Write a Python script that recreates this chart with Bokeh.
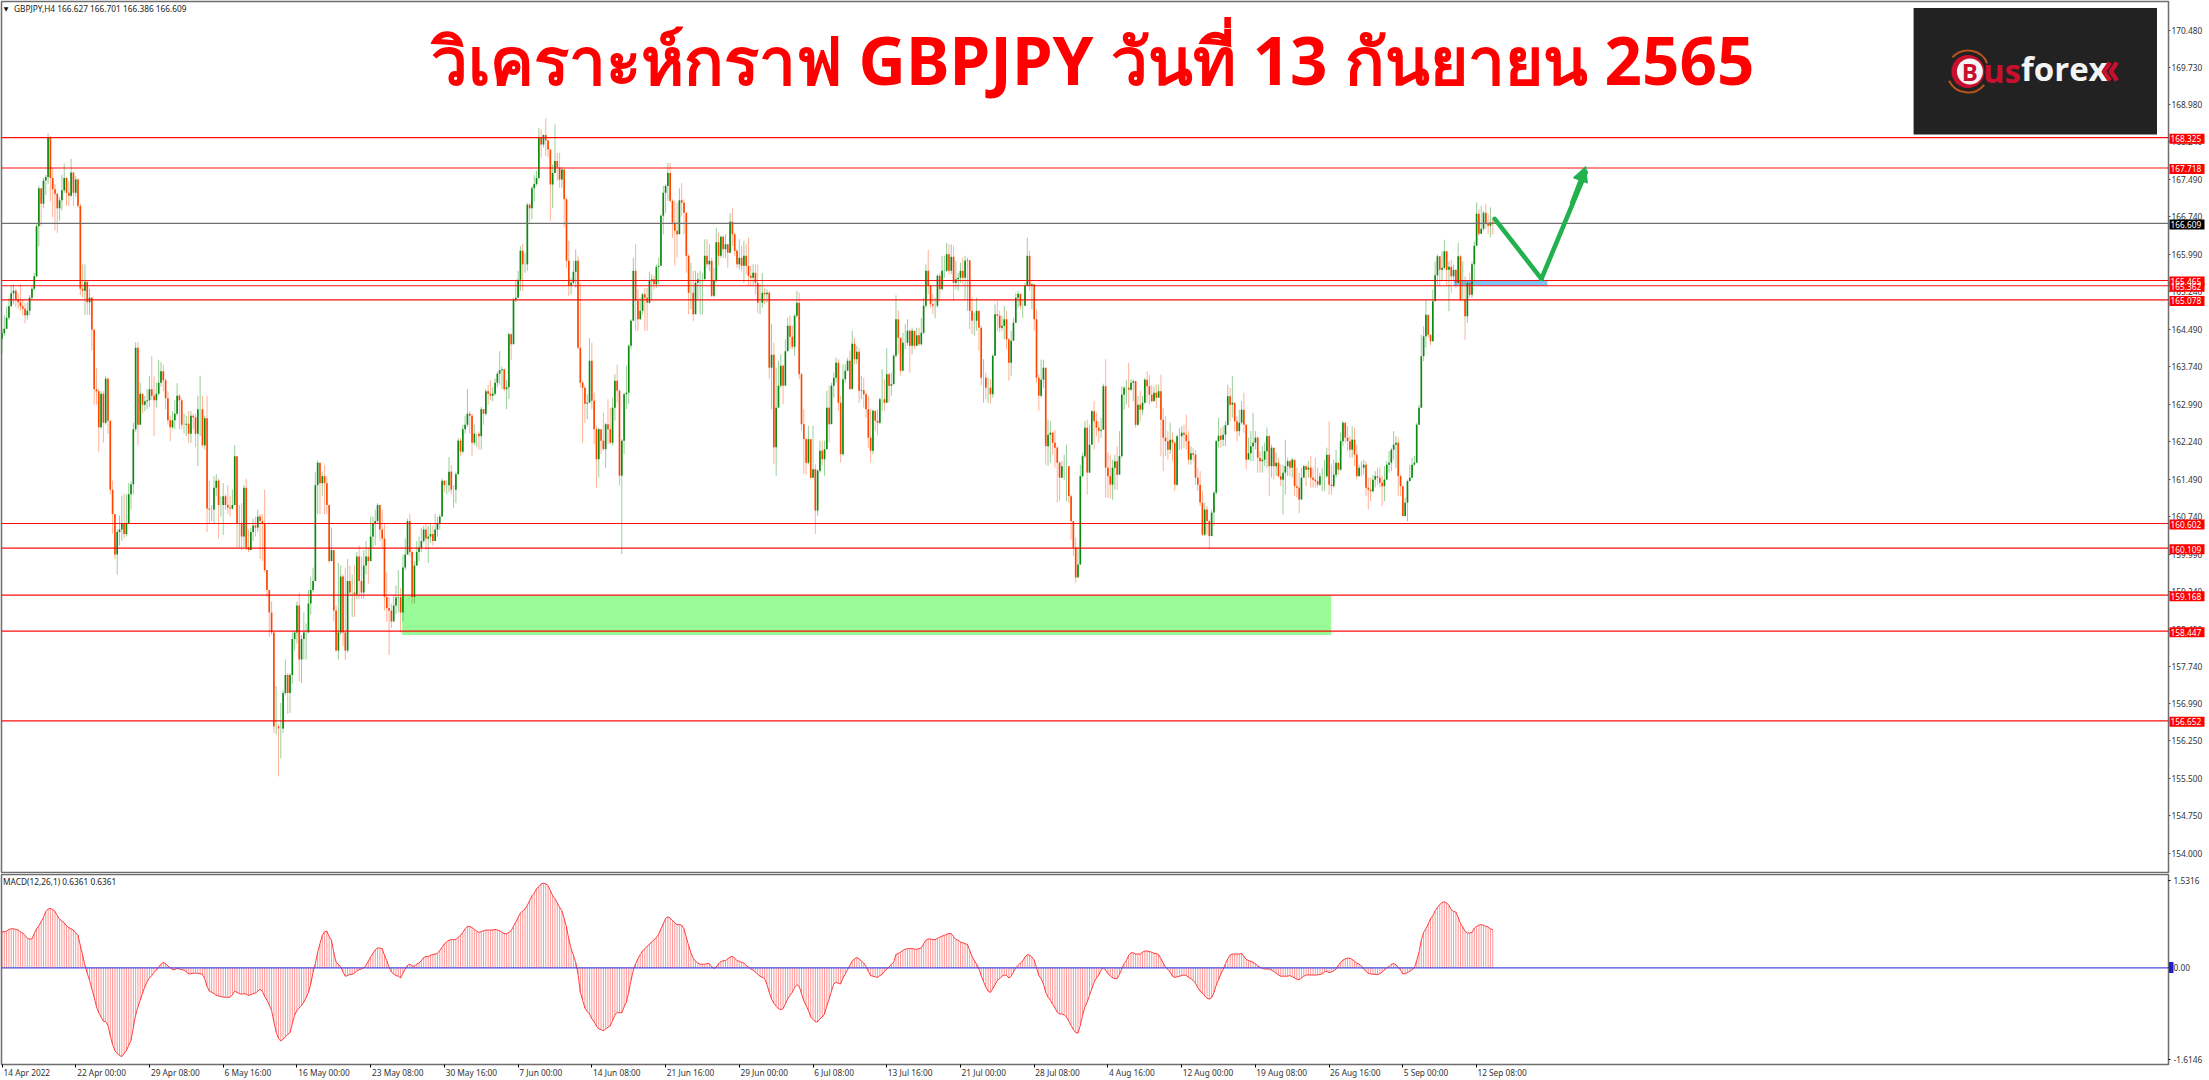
from bokeh.plotting import figure
from bokeh.layouts import column
from bokeh.models import (ColumnDataSource, FixedTicker, Label, Arrow, NormalHead)
from bokeh.core.properties import value
from bokeh.embed import file_html
from bokeh.resources import INLINE

# ---------- values ----------
closes = [
164.41,164.50,164.72,164.95,165.21,165.26,165.08,165.03,164.95,164.90,164.77,164.86,165.12,165.30,165.55,166.55,
167.31,167.00,167.47,167.54,168.34,167.52,167.29,167.20,166.91,167.07,167.27,167.52,167.22,167.16,167.63,167.22,
167.49,166.96,165.30,165.26,165.44,165.03,165.12,164.48,163.29,163.25,162.53,163.20,162.62,163.50,162.66,161.28,
160.79,159.98,160.43,160.48,160.61,160.39,160.61,161.19,161.39,162.49,164.12,162.58,163.20,162.98,163.05,163.07,
163.29,163.16,163.07,163.20,163.42,163.65,163.47,163.11,162.67,162.53,162.67,162.80,163.16,163.07,162.58,162.58,
162.60,162.40,162.76,162.73,162.40,162.89,162.89,162.17,162.71,160.90,160.88,160.88,161.32,161.46,160.97,160.97,
161.15,160.97,160.92,160.90,160.97,161.95,160.61,160.61,160.34,161.32,160.12,160.07,160.43,160.56,160.52,160.74,
160.65,160.61,159.67,159.27,158.82,158.42,156.54,156.54,156.50,156.50,157.21,157.57,157.21,157.57,158.29,158.42,
158.96,157.88,158.29,158.42,158.42,159.00,159.27,159.45,161.37,161.82,161.41,161.55,161.41,160.97,159.85,160.07,
158.86,158.06,158.42,159.54,158.42,158.06,159.45,159.22,159.22,159.18,159.94,159.45,159.22,159.76,159.94,159.85,
160.34,160.61,160.65,160.97,160.48,160.30,159.13,158.91,158.86,158.64,158.96,159.12,159.13,158.82,159.72,159.98,
160.65,160.03,159.13,159.76,160.03,160.12,160.25,160.48,160.30,160.34,160.39,160.25,160.48,160.61,160.74,161.46,
161.37,161.37,161.64,161.28,161.28,161.59,162.26,162.04,162.49,162.58,162.80,162.76,162.22,162.40,162.40,162.35,
162.89,162.80,163.25,163.20,163.16,163.20,163.42,163.60,163.67,163.69,163.29,163.33,164.39,164.19,165.08,165.12,
165.48,166.06,165.79,165.79,166.98,166.91,167.31,167.40,167.52,168.33,168.19,168.38,168.27,168.09,167.39,167.62,
167.86,167.73,167.49,167.69,167.09,165.86,165.36,165.42,165.64,165.86,164.12,163.42,163.32,163.00,163.02,163.86,
163.06,162.49,161.89,162.49,162.26,162.09,162.59,162.49,162.22,162.92,163.46,163.26,161.56,162.26,163.19,163.22,
164.16,164.66,165.66,165.06,164.69,164.86,165.19,165.12,165.02,165.46,165.49,165.39,165.74,165.76,166.76,167.22,
167.36,167.62,167.06,166.62,166.46,166.39,167.07,167.02,166.82,165.96,165.22,165.22,164.79,165.42,165.49,165.49,
165.49,165.96,165.79,165.86,165.16,165.46,166.23,165.96,166.34,166.09,166.19,166.02,166.64,166.39,166.06,165.79,
165.92,165.76,165.96,165.76,165.56,165.52,165.62,165.42,165.02,165.02,165.22,165.19,165.22,163.72,163.98,162.13,
162.92,163.36,163.76,163.36,164.05,164.56,164.34,164.14,164.76,165.02,163.59,162.59,162.29,161.82,162.29,161.52,
161.69,160.86,161.66,162.06,161.89,162.09,162.92,162.59,163.36,163.52,163.82,163.02,161.99,163.49,163.66,163.86,
163.29,164.20,163.89,164.04,163.26,163.27,163.19,162.89,162.32,162.06,162.86,162.66,162.62,163.09,163.09,163.02,
163.59,163.36,163.39,163.96,164.69,164.32,163.66,164.22,164.22,164.46,164.16,164.46,164.16,164.37,164.19,164.42,
164.96,165.66,165.36,164.99,164.96,164.96,165.56,165.29,165.66,165.66,165.99,165.66,165.94,165.42,165.49,165.52,
165.66,165.52,165.86,165.87,164.86,164.66,164.66,164.86,164.52,163.52,163.52,163.32,163.32,163.19,163.96,164.79,
164.76,164.52,164.56,164.69,164.29,163.82,164.26,164.62,165.12,165.20,164.96,164.96,165.36,165.96,165.36,165.39,
164.69,163.52,163.16,163.48,163.72,162.15,162.38,162.42,162.22,162.12,161.82,161.52,161.75,161.75,161.75,161.15,
160.65,160.12,159.52,159.78,161.55,161.95,162.52,161.62,162.18,162.85,162.65,162.52,162.46,162.48,163.35,161.72,
161.55,161.38,161.72,161.85,161.58,161.95,163.18,163.32,163.32,163.28,163.42,163.45,162.58,162.98,162.88,163.02,
163.48,163.35,163.18,163.05,163.22,163.12,163.25,162.68,162.32,162.25,162.08,162.28,162.22,161.38,162.35,162.35,
162.42,162.38,162.25,161.88,162.01,161.98,161.52,161.38,161.02,160.38,160.88,160.65,160.35,160.82,161.22,162.25,
162.36,162.28,162.38,162.57,163.15,162.98,163.02,162.65,162.45,162.62,162.88,162.58,161.88,162.01,162.15,162.22,
162.32,161.92,161.85,161.88,162.05,162.35,161.75,162.12,161.75,161.82,161.55,161.48,161.62,161.75,161.85,161.72,
161.88,161.35,161.32,161.08,161.52,161.75,161.68,161.72,161.52,161.48,161.45,161.38,161.55,161.55,161.55,161.98,
161.38,161.35,161.58,161.82,161.68,162.25,162.62,162.32,162.25,162.08,162.28,161.98,161.55,161.72,161.72,161.78,
161.32,161.28,161.25,161.48,161.55,161.52,161.42,161.35,161.48,161.78,161.82,162.08,162.18,162.22,161.55,161.35,
160.75,161.02,161.45,161.52,161.78,161.82,162.58,162.92,163.95,164.35,164.78,164.38,164.25,165.05,165.57,165.95,
165.68,165.72,166.05,165.68,165.74,165.55,165.68,165.42,165.95,165.08,165.08,164.75,165.42,165.18,165.79,166.16,
166.80,166.40,166.50,166.82,166.60,166.56,166.63,166.609]
highs = [
164.50,164.77,164.95,165.12,165.37,165.39,165.30,165.21,165.39,165.08,165.01,165.03,165.17,165.35,165.62,166.60,
167.36,167.31,167.52,167.58,168.41,168.36,167.72,167.40,167.22,167.14,167.58,167.81,167.54,167.45,167.90,167.63,
167.56,167.52,167.00,165.79,165.79,165.46,165.30,165.14,164.50,163.71,163.29,163.25,163.25,163.56,163.53,162.66,
161.46,160.79,160.48,160.76,161.15,161.19,161.19,161.41,161.44,162.62,164.23,164.23,163.42,163.20,163.16,163.29,
163.56,163.96,163.56,163.42,163.87,163.83,163.78,163.51,163.25,162.76,162.85,163.07,163.41,163.20,163.11,162.80,
162.76,162.85,162.85,162.80,162.80,163.16,163.56,163.16,162.76,163.16,161.46,160.97,161.55,161.59,161.50,161.15,
161.41,161.19,161.37,161.15,161.28,162.17,161.95,160.97,161.01,161.37,161.50,160.48,160.52,160.70,160.74,160.88,
160.79,160.79,161.28,159.67,159.27,159.04,158.42,157.35,156.59,157.01,157.26,157.88,157.61,157.61,158.42,158.46,
159.04,159.22,158.37,158.82,158.60,159.27,159.54,159.72,161.64,161.86,161.82,161.64,161.77,161.55,160.97,160.52,
160.07,158.96,159.81,159.76,159.58,159.72,159.89,159.76,159.58,159.76,160.03,160.16,159.94,160.07,160.25,160.12,
160.74,160.74,160.88,161.01,160.97,160.88,160.61,159.62,159.13,159.00,159.18,159.36,159.67,159.31,159.98,160.30,
160.70,160.79,160.07,159.85,160.25,160.34,160.52,160.56,160.61,160.56,160.61,160.56,160.79,160.74,160.79,161.50,
161.46,161.46,161.93,161.77,161.37,161.64,162.31,162.31,162.58,162.76,163.29,162.85,162.80,162.58,162.40,162.44,
162.93,162.89,163.29,163.38,163.47,163.33,163.51,163.65,164.05,163.74,163.56,163.47,164.43,164.41,165.12,165.48,
165.66,166.15,166.20,166.02,167.02,167.02,167.36,167.58,167.67,168.52,168.49,168.39,168.71,168.29,168.06,167.79,
168.59,168.02,168.02,167.73,167.69,167.12,166.26,165.52,165.86,166.09,165.96,165.41,163.46,163.36,163.19,164.31,
164.22,163.22,162.56,162.52,162.42,162.82,162.62,163.09,162.92,163.12,163.59,163.78,163.29,162.29,163.22,163.76,
164.19,164.69,165.92,166.19,165.29,165.12,165.22,165.32,165.32,165.64,165.59,165.56,165.79,165.92,166.79,167.36,
167.39,167.82,167.82,167.09,167.06,167.02,167.31,167.42,167.09,166.82,165.99,165.82,165.66,165.66,165.62,165.66,
165.62,166.29,166.29,166.19,165.92,165.72,166.52,166.42,166.36,166.36,166.39,166.19,166.82,166.91,166.42,166.09,
166.29,166.16,166.26,166.19,166.32,165.76,165.79,165.79,165.79,165.39,165.62,165.32,165.29,165.26,164.59,164.22,
163.72,163.86,163.99,163.79,164.29,164.72,164.76,164.56,164.79,165.26,165.22,163.62,162.89,162.32,162.56,162.29,
162.56,161.79,161.69,162.26,162.26,162.26,163.26,163.36,163.42,163.62,163.92,163.89,163.16,163.79,163.79,163.92,
164.06,164.46,164.32,164.16,164.12,163.56,163.52,163.22,163.16,162.89,162.89,162.79,162.89,163.12,163.69,163.49,
164.11,163.62,163.62,163.99,165.17,164.87,164.32,164.42,164.59,164.69,164.49,164.52,164.39,164.52,164.52,164.72,
165.12,165.79,166.08,165.36,165.19,165.12,165.59,165.62,165.96,165.96,166.22,166.19,166.19,166.16,165.86,165.62,
165.82,165.92,165.96,165.92,165.87,165.12,164.82,165.12,164.82,164.56,163.89,163.62,163.52,163.49,163.99,164.99,
165.06,164.86,164.76,164.96,164.86,164.32,164.46,164.72,165.22,165.26,165.19,165.06,165.42,166.32,166.06,165.42,
165.29,164.89,163.59,163.88,163.88,163.72,162.68,162.65,162.45,162.48,162.15,161.85,161.85,161.98,162.18,161.75,
161.18,160.65,160.32,160.12,161.78,162.02,162.65,162.68,162.58,162.88,163.05,162.82,162.65,162.72,163.40,163.89,
162.02,161.98,161.88,161.98,162.15,162.45,163.35,163.35,163.48,163.82,163.48,163.48,163.45,163.15,163.25,163.15,
163.52,163.65,163.58,163.38,163.35,163.38,163.38,163.58,162.92,162.75,162.45,162.62,162.42,162.25,162.38,162.52,
162.55,162.58,162.78,162.45,162.15,162.12,162.08,161.72,161.65,161.25,161.02,160.95,160.68,160.88,161.25,162.28,
162.72,162.52,162.55,162.65,163.38,163.32,163.55,162.98,162.75,162.88,163.05,163.22,162.58,162.32,162.45,162.82,
162.45,162.35,162.05,162.15,162.22,162.52,162.38,162.18,162.12,162.02,161.92,161.78,161.78,162.28,161.92,161.88,
161.92,161.85,161.72,161.62,161.72,161.78,161.78,161.85,161.95,161.72,161.92,161.72,161.62,161.72,161.88,162.12,
162.65,161.78,161.88,162.08,161.82,162.42,162.65,162.62,162.55,162.35,162.55,162.52,162.18,161.78,161.85,161.88,
161.85,161.52,161.52,161.58,161.65,161.72,161.72,161.55,161.75,161.85,162.05,162.12,162.45,162.35,162.32,161.58,
161.35,161.12,161.48,161.78,161.92,161.95,162.62,162.98,164.38,164.55,165.08,164.78,164.38,165.28,165.85,165.99,
165.95,166.05,166.28,166.05,165.85,165.88,165.78,165.68,166.22,165.98,165.85,165.55,165.45,165.62,165.85,166.25,
167.03,166.90,166.96,166.86,167.00,166.80,166.93,166.701]
lows = [
164.01,164.36,164.50,164.68,164.95,164.99,164.93,164.90,164.86,164.77,164.61,164.68,164.77,165.08,165.26,165.53,
166.15,166.55,166.91,167.18,167.40,167.05,166.73,166.47,166.42,166.66,166.87,167.22,166.96,166.96,167.14,166.96,
167.14,166.91,165.17,165.12,164.78,164.78,164.78,164.07,162.98,162.98,162.04,162.49,162.22,162.58,162.40,161.19,
160.40,159.89,159.58,160.16,160.25,160.30,160.34,160.79,160.88,161.19,162.44,162.17,162.85,162.80,162.85,162.89,
162.93,163.07,162.35,162.93,163.16,163.34,163.25,162.89,162.58,162.25,162.49,162.49,162.76,162.49,162.49,162.40,
162.35,162.22,162.22,162.49,162.13,161.75,162.35,162.13,162.08,160.43,160.61,160.65,160.61,161.15,160.30,160.74,
160.37,160.88,160.79,160.74,160.88,160.97,160.12,160.12,160.07,160.12,160.07,160.03,160.07,160.25,160.34,160.43,
159.89,159.85,159.63,159.13,158.33,158.37,156.41,156.38,155.54,155.90,156.41,157.17,156.79,156.81,157.39,158.06,
158.20,157.44,157.41,157.88,157.88,158.42,158.78,159.22,159.72,160.79,160.79,161.15,160.79,160.79,159.81,159.85,
158.64,158.03,157.88,158.37,158.15,157.87,158.02,159.18,158.73,158.73,159.09,159.09,159.09,159.09,159.58,159.40,
159.85,160.12,160.16,160.61,160.25,160.12,158.86,158.64,157.97,158.51,158.69,158.78,158.82,158.42,158.64,159.67,
159.98,159.94,159.00,159.00,159.76,159.85,160.03,160.21,160.07,159.81,160.21,160.16,160.25,160.34,160.48,160.74,
161.23,161.19,161.23,161.19,160.92,161.01,161.57,161.95,162.00,162.40,162.53,162.40,161.95,162.17,162.13,162.08,
162.08,162.58,162.76,162.98,163.07,163.05,163.16,163.33,163.38,163.29,163.25,162.89,163.09,163.87,164.19,165.03,
165.12,165.26,165.26,165.62,165.66,166.64,166.69,167.05,167.36,167.49,167.93,168.13,167.96,167.93,166.66,166.92,
167.62,167.46,167.32,167.32,166.53,165.72,165.16,165.19,165.39,165.32,164.09,163.32,162.22,162.62,162.69,163.02,
162.89,162.19,161.32,161.52,161.99,162.06,161.72,162.19,162.19,162.16,162.66,163.02,161.36,159.99,161.99,162.89,
163.00,164.09,164.66,164.46,164.46,164.69,164.79,164.46,164.46,164.99,165.06,165.29,165.32,165.39,165.76,166.39,
166.82,167.06,167.03,166.32,165.76,165.92,166.39,166.76,166.39,165.62,164.79,164.89,164.66,164.79,165.06,164.79,
164.79,165.59,165.72,165.65,165.13,165.13,165.42,165.76,165.92,165.92,165.92,165.72,166.02,166.16,165.96,165.72,
165.69,165.66,165.42,165.59,165.36,165.36,165.36,165.19,164.82,164.79,164.92,164.99,165.02,163.49,162.89,161.79,
161.55,162.96,163.32,162.99,163.96,164.06,164.09,164.09,163.96,164.72,163.49,162.46,161.59,161.59,161.79,161.49,
161.52,160.39,160.75,161.62,161.76,161.56,162.09,162.22,162.59,163.12,163.42,162.86,161.82,161.96,163.42,163.66,
163.29,163.86,163.79,163.79,163.02,163.09,162.92,162.72,162.12,161.82,161.99,162.46,162.36,162.59,162.86,162.86,
163.02,163.02,163.16,163.39,163.92,163.99,163.56,163.99,164.09,164.16,163.62,163.99,164.09,164.16,164.16,164.16,
164.39,164.92,165.19,164.92,164.79,164.71,164.92,165.06,165.29,165.52,165.64,165.59,165.59,165.06,165.29,165.26,
165.42,165.39,165.09,164.86,164.49,164.39,164.36,164.46,164.06,163.36,163.02,163.09,163.02,163.00,163.12,163.96,
164.46,164.43,164.46,164.29,164.09,163.46,163.56,164.26,164.62,164.92,164.89,164.72,164.96,165.36,165.26,164.89,
164.46,163.42,162.86,163.12,163.32,161.78,161.75,161.82,161.98,161.72,161.02,161.05,161.52,161.48,161.05,161.02,
160.28,159.95,159.42,159.55,159.78,161.52,161.92,161.18,161.62,162.18,162.08,162.35,162.22,162.32,162.48,161.12,
161.12,161.10,161.08,161.28,161.28,161.58,161.92,162.88,162.98,162.92,163.25,163.05,162.52,162.55,162.65,162.78,
163.00,163.02,162.98,163.02,163.05,162.92,163.12,161.95,161.65,161.95,161.88,161.99,161.85,161.25,161.35,162.08,
162.08,162.12,162.08,161.78,161.78,161.85,161.38,161.25,160.95,160.35,160.35,160.38,160.08,160.35,160.55,161.18,
162.12,162.12,162.15,162.15,162.58,162.65,162.72,162.45,162.25,162.35,162.58,162.42,161.68,161.92,161.85,161.85,
162.08,161.62,161.62,161.62,161.75,161.72,161.15,161.52,161.48,161.55,161.52,161.35,160.78,161.18,161.55,161.55,
161.52,161.15,161.12,160.81,161.28,161.52,161.35,161.52,161.32,161.32,161.32,161.32,161.35,161.25,161.25,161.52,
161.18,161.18,161.32,161.52,161.58,161.65,162.15,162.22,162.05,161.92,161.92,161.75,161.48,161.55,161.55,161.58,
161.15,160.88,161.05,161.22,161.32,161.38,161.32,160.95,161.05,161.48,161.62,161.65,161.88,161.72,161.15,161.15,
160.75,160.75,160.65,161.48,161.52,161.75,161.82,162.58,162.92,163.85,164.12,164.32,164.17,164.25,165.22,165.38,
165.35,165.45,165.68,165.38,164.85,165.22,165.45,165.32,165.42,165.05,165.05,164.28,164.62,165.12,165.12,165.45,
166.16,166.36,166.40,166.46,166.50,166.40,166.33,166.386]
# open of each 4-hour bar follows the previous close on this chart
first_open = 164.30
macd = [
.60,.60,.61,.64,.65,.65,.64,.63,.60,.58,.54,.49,.48,.48,.57,.65,.70,.77,.84,.94,.98,.99,.97,.94,.87,.81,.78,.75,.70,.67,.65,.63,
.58,.54,.37,.21,.04,-.09,-.21,-.35,-.49,-.65,-.75,-.82,-.89,-.90,-.96,-1.13,-1.28,-1.38,-1.43,-1.46,-1.48,-1.43,-1.38,-1.29,-1.21,-.99,-.79,-.65,-.54,-.42,-.32,-.23,
-.17,-.13,-.08,-.04,.01,.06,.09,.07,.03,0,-.03,-.03,-.01,-.02,-.03,-.04,-.07,-.10,-.10,-.09,-.09,-.09,-.10,-.11,-.18,-.31,-.39,-.41,-.43,-.46,-.47,-.48,
-.49,-.49,-.49,-.49,-.45,-.39,-.41,-.43,-.44,-.43,-.44,-.46,-.45,-.43,-.42,-.39,-.36,-.39,-.48,-.54,-.62,-.71,-.90,-1.07,-1.18,-1.22,-1.19,-1.15,-1.11,-1.08,-.93,-.79,
-.71,-.67,-.63,-.57,-.50,-.41,-.27,-.07,.07,.26,.40,.54,.60,.61,.52,.46,.26,.09,.06,.01,-.07,-.14,-.13,-.11,-.11,-.09,-.05,-.03,-.02,0,.04,.11,
.18,.24,.30,.33,.33,.32,.21,.12,.01,-.07,-.10,-.13,-.14,-.17,-.09,-.02,.04,.06,.03,.03,.06,.08,.12,.17,.19,.19,.21,.22,.23,.24,.29,.34,
.40,.43,.46,.47,.47,.47,.51,.54,.59,.65,.69,.69,.67,.64,.61,.59,.60,.62,.63,.63,.63,.63,.64,.63,.62,.59,.57,.57,.59,.62,.69,.76,
.84,.91,.95,.98,1.04,1.12,1.20,1.24,1.32,1.35,1.40,1.41,1.40,1.37,1.29,1.20,1.15,1.08,1.01,.95,.82,.68,.48,.32,.21,.09,-.10,-.41,-.54,-.67,-.73,-.77,
-.85,-.90,-.97,-1.02,-1.03,-1.05,-1.02,-.99,-.97,-.88,-.79,-.74,-.75,-.75,-.65,-.57,-.41,-.21,-.04,.07,.15,.22,.28,.32,.36,.39,.43,.47,.50,.56,.65,.73,
.82,.85,.83,.79,.75,.72,.72,.71,.65,.51,.37,.25,.16,.11,.08,.06,.06,.06,.07,.07,.02,-.01,.01,.07,.10,.12,.12,.15,.18,.19,.16,.12,
.11,.09,.08,.04,.01,-.02,-.04,-.07,-.11,-.14,-.16,-.18,-.28,-.41,-.52,-.59,-.64,-.68,-.70,-.68,-.60,-.52,-.46,-.41,-.33,-.28,-.31,-.43,-.55,-.63,-.71,-.82,
-.86,-.90,-.90,-.85,-.82,-.77,-.63,-.52,-.39,-.27,-.24,-.26,-.27,-.17,-.10,-.03,.04,.11,.15,.17,.15,.11,.08,.02,-.06,-.13,-.14,-.15,-.16,-.13,-.11,-.06,
-.02,.01,.06,.09,.22,.24,.26,.29,.31,.32,.32,.32,.31,.31,.32,.33,.40,.46,.48,.48,.47,.47,.49,.51,.53,.54,.56,.57,.57,.52,.47,.46,
.43,.42,.40,.39,.29,.19,.12,.06,-.02,-.13,-.23,-.32,-.39,-.41,-.35,-.28,-.21,-.18,-.14,-.12,-.13,-.17,-.14,-.07,0,.04,.08,.11,.18,.22,.21,.18,
.13,0,-.13,-.18,-.27,-.41,-.49,-.54,-.61,-.67,-.74,-.77,-.77,-.78,-.82,-.89,-.96,-1.03,-1.08,-1.09,-.96,-.79,-.65,-.57,-.46,-.35,-.24,-.17,-.12,-.04,0,-.04,
-.10,-.13,-.17,-.18,-.18,-.11,-.02,.07,.12,.21,.25,.25,.23,.23,.23,.26,.28,.28,.27,.26,.24,.24,.22,.15,.08,.01,-.03,-.07,-.14,-.16,-.15,-.14,-.13,-.12,
-.13,-.16,-.18,-.21,-.26,-.33,-.39,-.42,-.47,-.51,-.52,-.50,-.41,-.29,-.20,-.10,-.03,.07,.15,.21,.23,.23,.23,.23,.24,.19,.14,.12,.11,.09,.07,.03,.01,-.01,
-.02,-.02,-.02,-.04,-.06,-.09,-.12,-.14,-.14,-.14,-.14,-.13,-.15,-.17,-.19,-.20,-.17,-.14,-.12,-.12,-.12,-.12,-.12,-.12,-.11,-.10,-.07,-.06,-.08,-.07,-.05,-.02,.04,.09,
.13,.15,.16,.16,.14,.11,.08,.06,.03,-.02,-.06,-.09,-.10,-.11,-.11,-.11,-.10,-.07,-.04,0,.02,.06,.07,.05,.01,-.04,-.10,-.10,-.08,-.06,-.03,0,.12,.26,
.46,.59,.65,.73,.82,.87,.95,1.01,1.05,1.09,1.10,1.08,1.04,.97,.94,.93,.84,.74,.68,.61,.58,.58,.59,.66,.69,.71,.72,.71,.69,.68,.65,.6361]
date_ticks = [0,32,64,96,128,160,192,224,256,288,320,352,384,416,448,480,512,544,576,608,640]
date_labels = ["14 Apr 2022","22 Apr 00:00","29 Apr 08:00","6 May 16:00","16 May 00:00","23 May 08:00","30 May 16:00",
 "7 Jun 00:00","14 Jun 08:00","21 Jun 16:00","29 Jun 00:00","6 Jul 08:00","13 Jul 16:00","21 Jul 00:00","28 Jul 08:00",
 "4 Aug 16:00","12 Aug 00:00","19 Aug 08:00","26 Aug 16:00","5 Sep 00:00","12 Sep 08:00"]
price_ticks = [170.48,169.73,168.98,168.24,167.49,166.74,165.99,165.24,164.49,163.74,162.99,162.24,161.49,160.74,159.99,
 159.24,158.49,157.74,156.99,156.25,155.50,154.75,154.00]
red_levels = [168.325,167.718,165.465,165.362,165.078,160.602,160.109,159.168,158.447,156.652]
last_price = 166.609
zone_green = (402, 1330.6, 159.168, 158.37)   # left px, right px, top price, bottom price
zone_blue = (1453, 1546.7, 165.465, 165.362)
path_x = [1494, 1540.7, 1585]
path_p = [166.70, 165.50, 167.75]
title_text = "วิเคราะห์กราฟ GBPJPY วันที่ 13 กันยายน 2565"
header_text = "GBPJPY,H4  166.627 166.701 166.386 166.609"
macd_text = "MACD(12,26,1) 0.6361 0.6361"

# ---------- layout ----------
BAR_PX = 2.303
def xd(px):
    return (px - 2.0) / BAR_PX
def pd(py):
    return 170.48 - (py - 29.5) / 49.96
def md(py):
    return (967.3 - py) / 60.0

FONT = "Noto Sans"
GREY = "#6e6e6e"
AX_TXT = "#333333"
AX_SIZE = "8.3px"
xr = (xd(1.5), xd(2167.5))
ABS = {"position": "absolute", "left": "0px", "top": "0px"}

n = min(len(closes), len(highs), len(lows))
opens = [first_open] + closes[:n-1]
idx = list(range(n))
cols = ["#0b8a10" if c >= o else "#ff4500" for o, c in zip(opens, closes)]
src = ColumnDataSource(dict(x=idx, c=closes[:n], h=highs[:n], l=lows[:n],
    top=[max(a, b) for a, b in zip(opens, closes)],
    bot=[min(a, b) for a, b in zip(opens, closes)],
    col=cols))

p = figure(width=2209, height=873, x_range=xr, y_range=(pd(873), pd(1)), output_backend="svg", toolbar_location=None,
           min_border_left=1, min_border_right=41, min_border_top=1, min_border_bottom=0, y_axis_location="right",
           x_axis_location=None)
p.grid.visible = False
p.outline_line_color = GREY
p.outline_line_width = 1.5
ax = p.yaxis[0]
ax.ticker = FixedTicker(ticks=price_ticks)
ax.major_label_overrides = {t: f"{t:.3f}" for t in price_ticks}
ax.major_label_text_font = FONT
ax.major_label_text_font_size = AX_SIZE
ax.major_label_text_color = AX_TXT
ax.major_label_standoff = 1
ax.major_tick_out = 2
ax.major_tick_in = 0
ax.minor_tick_out = 0
ax.minor_tick_in = 0
ax.axis_line_color = None
ax.major_tick_line_color = "#555555"

p.quad(left=[xd(zone_green[0])], right=[xd(zone_green[1])], top=[zone_green[2]], bottom=[zone_green[3]],
       fill_color="#98fb98", line_color=None)
p.quad(left=[xd(zone_blue[0])], right=[xd(zone_blue[1])], top=[zone_blue[2]], bottom=[zone_blue[3]],
       fill_color="#7fc4f5", line_color=None)

p.segment("x", "h", "x", "l", source=src, line_color="col", line_alpha=0.42, line_width=1)
p.vbar("x", width=0.72, top="top", bottom="bot", source=src, fill_color="col", line_color=None)

for lv in red_levels:
    p.line([xr[0], xr[1]], [lv, lv], line_color="#ff0000", line_width=1.1, line_alpha=0.95)
p.line([xr[0], xr[1]], [last_price, last_price], line_color="#707070", line_width=1.2)

# forecast arrow
p.line([xd(v) for v in path_x[:2]], path_p[:2], line_color="#22b14c", line_width=4.6, line_cap="round", line_join="round")
p.line([xd(v) for v in path_x[1:]], [path_p[1], path_p[2] - 0.12], line_color="#22b14c", line_width=4.6, line_cap="round", line_join="round")
p.add_layout(Arrow(end=NormalHead(size=15, fill_color="#22b14c", line_color="#22b14c"), line_color="#22b14c", line_width=4,
                   x_start=xd(path_x[1] + 30), y_start=path_p[1] + 1.5, x_end=xd(path_x[2]), y_end=path_p[2]))

p.add_layout(Label(x=xd(6), y=pd(7.5), text="▼", text_font="DejaVu Sans", text_font_size="6px", text_color="#111111",
                   text_baseline="middle", text_align="center"))
p.add_layout(Label(x=xd(14), y=pd(8), text=header_text, text_font=FONT, text_font_size=AX_SIZE, text_color="#222222",
                   text_baseline="middle"))
p.add_layout(Label(x=xd(1092), y=pd(59), text=title_text, text_font="Noto Sans", text_font_size="65.5px", text_font_style="bold",
                   text_color="#ff0000", text_align="center", text_baseline="middle"))

# logo
p.quad(left=[xd(1912.7)], right=[xd(2156)], top=[pd(7.5)], bottom=[pd(134)], fill_color="#222222", line_color=None)
p.scatter([xd(1967)], [pd(71)], size=33, fill_color="#c8102e", line_color=None)
p.scatter([xd(1969)], [pd(71)], size=26, fill_color="#f4f4f4", line_color=None)
p.text([xd(1969)], [pd(71)], text=["B"], text_color="#c8102e", text_font=value("Open Sans"), text_font_style="bold",
       text_font_size="24px", text_align="center", text_baseline="middle")
p.arc([xd(1967)], [pd(71)], radius=21, radius_units="screen", start_angle=0.4, end_angle=2.4, line_color="#b5541c", line_width=2)
p.arc([xd(1967)], [pd(71)], radius=21, radius_units="screen", start_angle=3.6, end_angle=5.6, line_color="#b5541c", line_width=2)
p.text([xd(1982)], [pd(70)], text=["us"], text_color="#c8102e", text_font=value("Open Sans"), text_font_style="bold",
       text_font_size="33px", text_align="left", text_baseline="middle")
p.text([xd(2020)], [pd(68)], text=["forex"], text_color="#f4f4f4", text_font=value("Open Sans"), text_font_size="33px",
       text_font_style="bold", text_align="left", text_baseline="middle")
for off in (0, 7):
    p.line([xd(2109 + off), xd(2103 + off), xd(2109 + off)], [pd(62), pd(71), pd(80)], line_color="#c8102e", line_width=4.5)

# ---------- MACD pane ----------
q = figure(width=2209, height=207, x_range=p.x_range, y_range=(md(1064), md(874)), output_backend="svg", toolbar_location=None,
           min_border_left=1, min_border_right=41, min_border_top=1, min_border_bottom=16, y_axis_location="right")
q.grid.visible = False
q.outline_line_color = GREY
q.outline_line_width = 1.5
ya = q.yaxis[0]
macd_ticks = [md(880), 0, md(1059)]
ya.ticker = FixedTicker(ticks=macd_ticks)
ya.major_label_overrides = {macd_ticks[0]: "1.5316", 0: "0.00", macd_ticks[2]: "-1.6146"}
ya.major_label_text_font = FONT
ya.major_label_text_font_size = AX_SIZE
ya.major_label_text_color = AX_TXT
ya.major_label_standoff = 3
ya.major_tick_out = 2
ya.major_tick_in = 0
ya.minor_tick_out = 0
ya.minor_tick_in = 0
ya.axis_line_color = None

xa = q.xaxis[0]
xa.ticker = FixedTicker(ticks=date_ticks)
xa.major_label_overrides = {t: "" for t in date_ticks}
xa.major_tick_out = 3
xa.major_tick_in = 0
xa.minor_tick_out = 0
xa.minor_tick_in = 0
xa.axis_line_color = None

m = min(len(macd), n)
msrc = ColumnDataSource(dict(x=idx[:m], v=macd[:m], z=[0] * m))
q.segment("x", "z", "x", "v", source=msrc, line_color="#ff3030", line_alpha=0.5, line_width=1)
q.line("x", "v", source=msrc, line_color="#ff2020", line_width=1, line_alpha=0.85)
q.line([xr[0], xr[1]], [0, 0], line_color="#4a4ae0", line_width=1.3)
q.add_layout(Label(x=xd(3), y=md(881), text=macd_text, text_font=FONT, text_font_size=AX_SIZE, text_color="#222222",
                   text_baseline="middle"))

layout = column(p, q, spacing=0, styles=ABS)

# ---------- transparent sheet over the page for what lies outside the panes: price tags, date labels ----------
ov = figure(width=2209, height=1080, x_range=(xd(0), xd(2209)), y_range=(pd(1080), pd(0)), output_backend="svg",
            toolbar_location=None, min_border=0, x_axis_location=None, y_axis_location=None,
            outline_line_color=None, background_fill_alpha=0, border_fill_alpha=0, styles=ABS)
ov.grid.visible = False
tag_v = red_levels + [last_price]
tag_c = ["#ff0000"] * len(red_levels) + ["#000000"]
half = 5 / 49.96
tsrc = ColumnDataSource(dict(l=[xd(2169)] * len(tag_v), r=[xd(2204)] * len(tag_v),
                             t=[v + half - 1 / 49.96 for v in tag_v], b=[v - half - 1 / 49.96 for v in tag_v], c=tag_c,
                             y=[v - 1 / 49.96 for v in tag_v], s=[f"{v:.3f}" for v in tag_v]))
ov.quad(left="l", right="r", top="t", bottom="b", fill_color="c", line_color=None, source=tsrc)
ov.text(x="l", y="y", text="s", source=tsrc, x_offset=1, text_color="white", text_font=value(FONT), text_font_size=AX_SIZE,
        text_align="left", text_baseline="middle")
ov.text(x=date_ticks, y=[pd(1072)] * len(date_ticks), text=date_labels, x_offset=1, text_color=AX_TXT, text_font=value(FONT),
        text_font_size=AX_SIZE, text_align="left", text_baseline="middle")
ov.quad(left=[xd(2168.5)], right=[xd(2173)], top=[pd(961.5)], bottom=[pd(972.5)], fill_color="#2020c8", line_color=None)

open("out.html", "w").write(file_html([layout, ov], INLINE))
print(n, len(closes), len(highs), len(lows), len(macd))
